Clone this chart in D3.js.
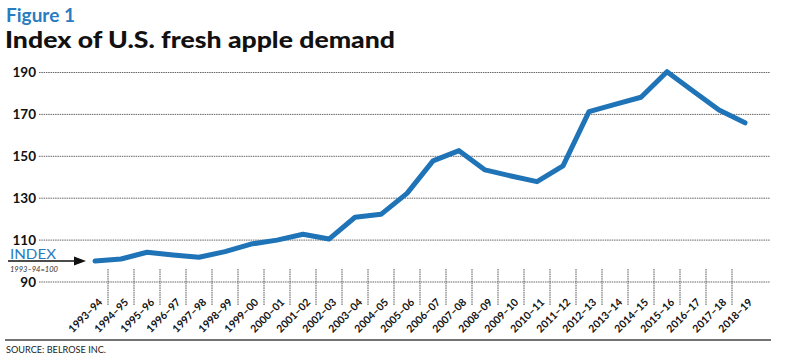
<!DOCTYPE html>
<html>
<head>
<meta charset="utf-8">
<script src="https://cdn.jsdelivr.net/npm/d3@7"></script>
<style>
  html, body { margin: 0; padding: 0; background: #fff; }
  svg { display: block; }
</style>
</head>
<body>
<svg id="chart" width="800" height="361"></svg>
<script>
const categories = ["1993–94","1994–95","1995–96","1996–97","1997–98","1998–99","1999–00","2000–01","2001–02","2002–03","2003–04","2004–05","2005–06","2006–07","2007–08","2008–09","2009–10","2010–11","2011–12","2012–13","2013–14","2014–15","2015–16","2016–17","2017–18","2018–19"];
const demandIndex = [100, 101, 104.2, 102.9, 101.8, 104.5, 108.1, 110, 112.8, 110.5, 120.9, 122.3, 132.3, 147.8, 152.7, 143.5, 140.6, 137.9, 145.4, 171.3, 174.8, 178.2, 190.4, 181.2, 172.1, 166];
const yTicks = [90, 110, 130, 150, 170, 190];
const titleText = "Index of U.S. fresh apple demand";
const figureText = "Figure 1";
const sourceText = "SOURCE: BELROSE INC.";

const svg = d3.select("#chart");
const blue = "#1f73b7";

const x = d3.scaleBand().domain(categories).range([82, 758]).padding(0);
const y = d3.scaleLinear().domain([90, 190]).range([282, 72.5]);
const cx = d => x(d) + x.bandwidth() / 2;

// Titles
svg.append("text").attr("x", 6).attr("y", 22)
  .attr("font-family", "Lato, 'Open Sans', sans-serif").attr("font-weight", 700)
  .attr("font-size", 18).attr("fill", "#2a7cc0")
  .attr("textLength", 69).attr("lengthAdjust", "spacingAndGlyphs")
  .text(figureText);
svg.append("text").attr("x", 5).attr("y", 47.5)
  .attr("font-family", "Lato, 'Open Sans', sans-serif").attr("font-weight", 900)
  .attr("font-size", 23).attr("fill", "#111")
  .attr("textLength", 390).attr("lengthAdjust", "spacingAndGlyphs")
  .text(titleText);

// Gridlines
const grid = svg.append("g");
grid.selectAll("line").data(yTicks).join("line")
  .attr("x1", 39).attr("x2", 770)
  .attr("y1", d => y(d)).attr("y2", d => y(d))
  .attr("stroke", "#666").attr("stroke-width", 1)
  .attr("stroke-dasharray", "1.5,0.8");

// Y labels
svg.append("g").selectAll("text").data(yTicks).join("text")
  .attr("x", 36).attr("y", d => y(d) + 4.5)
  .attr("text-anchor", "end")
  .attr("font-family", "Lato, 'Open Sans', sans-serif").attr("font-weight", 700)
  .attr("font-size", 13.5).attr("fill", "#111")
  .text(d => d);

// Vertical tick separators
svg.append("g").selectAll("line").data(categories.slice(1)).join("line")
  .attr("x1", d => x(d)).attr("x2", d => x(d))
  .attr("y1", 269).attr("y2", 305)
  .attr("stroke", "#555").attr("stroke-width", 1)
  .attr("stroke-dasharray", "1.5,0.8");

// X labels
svg.append("g").selectAll("text").data(categories).join("text")
  .attr("transform", d => `translate(${cx(d) + 8},${303}) rotate(-45)`)
  .attr("text-anchor", "end")
  .attr("font-family", "Lato, 'Open Sans', sans-serif").attr("font-weight", 700)
  .attr("font-size", 10.5).attr("fill", "#111")
  .text(d => d);

// Line
const line = d3.line().x((d, i) => cx(categories[i])).y(d => y(d));
svg.append("path").datum(demandIndex)
  .attr("d", line)
  .attr("fill", "none").attr("stroke", blue)
  .attr("stroke-width", 5).attr("stroke-linejoin", "round").attr("stroke-linecap", "round");

// INDEX annotation
svg.append("text").attr("x", 10).attr("y", 258.5)
  .attr("font-family", "Lato, 'Open Sans', sans-serif").attr("font-weight", 400)
  .attr("font-size", 12.5).attr("fill", "#2a7cc0")
  .attr("textLength", 46).attr("lengthAdjust", "spacingAndGlyphs")
  .text("INDEX");
svg.append("line").attr("x1", 8).attr("x2", 76).attr("y1", 261).attr("y2", 261)
  .attr("stroke", "#111").attr("stroke-width", 1.5);
svg.append("path").attr("d", "M74,256.5 L86,261 L74,265.5 Z").attr("fill", "#111");
svg.append("text").attr("x", 10).attr("y", 271.5)
  .attr("font-family", "Lato, 'Open Sans', sans-serif").attr("font-style", "italic")
  .attr("font-size", 7.5).attr("fill", "#333")
  .text("1993–94=100");

// Bottom rule and source
svg.append("line").attr("x1", 5).attr("x2", 771).attr("y1", 340).attr("y2", 340)
  .attr("stroke", "#444").attr("stroke-width", 1.5);
svg.append("text").attr("x", 6).attr("y", 353)
  .attr("font-family", "Lato, 'Open Sans', sans-serif")
  .attr("font-size", 9).attr("fill", "#222")
  .attr("textLength", 100).attr("lengthAdjust", "spacingAndGlyphs")
  .text(sourceText);
</script>
</body>
</html>
